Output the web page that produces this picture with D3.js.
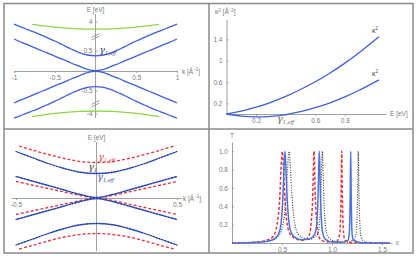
<!DOCTYPE html>
<html>
<head>
<meta charset="utf-8">
<script src="https://cdn.jsdelivr.net/npm/d3@7"></script>
<style>
body { margin: 0; background: #fff; }
svg { display: block; font-family: "Liberation Sans", Arial, sans-serif; }
.ax path, .ax line { stroke: #a0a0a0; stroke-width: 1; }
.ax text { fill: #7a7a7a; font-size: 6.5px; font-family: "Liberation Sans", Arial, sans-serif; }
.lbl { fill: #7a7a7a; font-size: 6.5px; }
</style>
</head>
<body>
<script>
// ---- data ----
// panel 1 : bands, k [1/A] vs E [eV]
var k1 = [-1, -0.9, -0.8, -0.7, -0.6, -0.5, -0.4, -0.3, -0.2, -0.1, 0, 0.1, 0.2, 0.3, 0.4, 0.5, 0.6, 0.7, 0.8, 0.9, 1];
var outerUp1 = [1.17, 1.09, 1.01, 0.93, 0.84, 0.75, 0.65, 0.55, 0.46, 0.40, 0.38, 0.40, 0.46, 0.55, 0.65, 0.75, 0.84, 0.93, 1.01, 1.09, 1.17];
var outerDn1 = [-1.18, -1.10, -1.02, -0.94, -0.85, -0.76, -0.66, -0.56, -0.47, -0.41, -0.39, -0.41, -0.47, -0.56, -0.66, -0.76, -0.85, -0.94, -1.02, -1.10, -1.18];
var innerUp1 = [0.80, 0.71, 0.63, 0.54, 0.46, 0.37, 0.29, 0.20, 0.12, 0.04, 0.01, 0.04, 0.12, 0.20, 0.29, 0.37, 0.46, 0.54, 0.63, 0.71, 0.80];
var innerDn1 = [-0.80, -0.71, -0.63, -0.54, -0.46, -0.37, -0.29, -0.20, -0.12, -0.04, -0.01, -0.04, -0.12, -0.20, -0.29, -0.37, -0.46, -0.54, -0.63, -0.71, -0.80];
var kGreen = [-0.78, -0.6, -0.4, -0.2, 0, 0.2, 0.4, 0.6, 0.78];
var greenUp = [3.885, 3.79, 3.71, 3.66, 3.64, 3.66, 3.71, 3.79, 3.885];
var greenDn = [-4.13, -4.02, -3.93, -3.87, -3.85, -3.87, -3.93, -4.02, -4.13];

// panel 2 : kappa^2 vs E
var e2 = [0, 0.1, 0.2, 0.3, 0.4, 0.5, 0.6, 0.7, 0.8, 0.9, 1.03];
var kappaA = [0, 0.054, 0.127, 0.22, 0.33, 0.46, 0.605, 0.77, 0.955, 1.16, 1.45];
var kappaB = [0, -0.04, -0.055, -0.045, -0.01, 0.045, 0.12, 0.21, 0.32, 0.45, 0.64];

// panel 3 : compared bands
var k3 = [-0.5, -0.4, -0.3, -0.2, -0.1, 0, 0.1, 0.2, 0.3, 0.4, 0.5];
var blueOutUp3 = [0.93, 0.81, 0.69, 0.59, 0.515, 0.49, 0.515, 0.59, 0.69, 0.81, 0.93];
var blueOutDn3 = [-0.94, -0.825, -0.71, -0.61, -0.535, -0.51, -0.535, -0.61, -0.71, -0.825, -0.94];
var blueInUp3 = [0.43, 0.34, 0.25, 0.16, 0.07, 0.01, 0.07, 0.16, 0.25, 0.34, 0.43];
var blueInDn3 = [-0.43, -0.34, -0.25, -0.16, -0.07, -0.01, -0.07, -0.16, -0.25, -0.34, -0.43];
var kRed3 = [-0.48, -0.4, -0.3, -0.2, -0.1, 0, 0.1, 0.2, 0.3, 0.4, 0.48];
var redOutUp3 = [1.04, 0.96, 0.87, 0.79, 0.73, 0.71, 0.73, 0.79, 0.87, 0.96, 1.04];
var redOutDn3 = [-1.02, -0.95, -0.86, -0.78, -0.73, -0.71, -0.73, -0.78, -0.86, -0.95, -1.02];
var redInUp3 = [0.33, 0.26, 0.19, 0.12, 0.05, 0.005, 0.05, 0.12, 0.19, 0.26, 0.33];
var redInDn3 = [-0.33, -0.26, -0.19, -0.12, -0.05, -0.005, -0.05, -0.12, -0.19, -0.26, -0.33];

// panel 4 : transmission T vs epsilon
var epsBlue = [0, 0.2, 0.3, 0.38, 0.43, 0.47, 0.49, 0.51, 0.52, 0.53, 0.54, 0.55, 0.57, 0.59, 0.63, 0.7, 0.76, 0.81, 0.837, 0.849, 0.861, 0.867, 0.873, 0.879, 0.885, 0.897, 0.909, 0.935, 1.0, 1.1, 1.16, 1.172, 1.177, 1.182, 1.187, 1.192, 1.197, 1.202, 1.215, 1.3, 1.58];
var tBlue = [0, 0.005, 0.012, 0.025, 0.05, 0.11, 0.21, 0.52, 0.8, 1.0, 0.8, 0.52, 0.22, 0.12, 0.06, 0.035, 0.04, 0.07, 0.13, 0.23, 0.52, 0.81, 1.0, 0.8, 0.5, 0.2, 0.1, 0.04, 0.012, 0.008, 0.03, 0.1, 0.21, 0.5, 1.0, 0.5, 0.2, 0.09, 0.03, 0.004, 0];
var epsRed = [0, 0.2, 0.3, 0.36, 0.41, 0.45, 0.47, 0.478, 0.49, 0.503, 0.516, 0.528, 0.55, 0.58, 0.63, 0.7, 0.75, 0.78, 0.794, 0.807, 0.82, 0.833, 0.846, 0.86, 0.885, 0.95, 1.05, 1.08, 1.085, 1.091, 1.097, 1.103, 1.109, 1.115, 1.13, 1.2, 1.58];
var tRed = [0, 0.007, 0.018, 0.035, 0.07, 0.2, 0.37, 0.5, 0.8, 1.0, 0.8, 0.5, 0.22, 0.1, 0.05, 0.03, 0.045, 0.12, 0.25, 0.5, 1.0, 0.5, 0.25, 0.1, 0.04, 0.012, 0.02, 0.12, 0.25, 0.55, 1.0, 0.55, 0.25, 0.12, 0.03, 0.005, 0];
var epsGray = [0, 0.2, 0.3, 0.4, 0.46, 0.5, 0.525, 0.54, 0.555, 0.57, 0.585, 0.6, 0.62, 0.66, 0.72, 0.78, 0.83, 0.86, 0.873, 0.888, 0.895, 0.903, 0.911, 0.918, 0.933, 0.96, 1.03, 1.15, 1.22, 1.243, 1.249, 1.256, 1.263, 1.27, 1.277, 1.29, 1.33, 1.58];
var tGray = [0, 0.005, 0.012, 0.03, 0.07, 0.16, 0.31, 0.5, 0.8, 1.0, 0.8, 0.5, 0.27, 0.1, 0.05, 0.04, 0.07, 0.1, 0.2, 0.5, 0.78, 1.0, 0.78, 0.5, 0.2, 0.07, 0.02, 0.01, 0.04, 0.12, 0.25, 0.5, 1.0, 0.5, 0.25, 0.07, 0.01, 0];

// ---- colours ----
var blue = "#3e5fd8", green = "#8fd44a", red = "#e5323c", frame = "#8a8a8a";

var svg = d3.select("body").append("svg")
    .attr("width", 419)
    .attr("height", 261);

// frames
svg.append("rect").attr("x", 4).attr("y", 3.5).attr("width", 409).attr("height", 249.5)
    .attr("fill", "none").attr("stroke", frame).attr("stroke-width", 1.5);
svg.append("line").attr("x1", 209).attr("x2", 209).attr("y1", 3.5).attr("y2", 253)
    .attr("stroke", frame).attr("stroke-width", 1.5);
svg.append("line").attr("x1", 4).attr("x2", 413).attr("y1", 129).attr("y2", 129)
    .attr("stroke", frame).attr("stroke-width", 1.5);

function fmt(d) { return String(d); }

function line(x, y) {
  return d3.line().x(function(d) { return x(d[0]); }).y(function(d) { return y(d[1]); })
      .curve(d3.curveCatmullRom);
}

function vline(x, y1, y2) {
  svg.append("line").attr("x1", x).attr("x2", x).attr("y1", y1).attr("y2", y2)
      .attr("stroke", "#a0a0a0");
}

function gamma(x, y, sub, color, anchor) {
  var t = svg.append("text").attr("x", x).attr("y", y).attr("fill", color)
      .attr("text-anchor", anchor || "start")
      .style("font-family", "'DejaVu Serif', serif").style("font-style", "italic");
  t.append("tspan").style("font-size", "9px").text("γ");
  t.append("tspan").attr("dy", 2).style("font-size", "5px").text(sub);
}

// ================= panel 1 =================
var x1 = d3.scaleLinear().domain([-1, 1]).range([14, 177]);
var y1 = d3.scaleLinear().domain([-1, 1]).range([111, 31]);
var yTop = d3.scaleLinear().domain([3, 4]).range([42, 22]);
var yBot = d3.scaleLinear().domain([-4, -3]).range([114, 94]);

svg.append("g").attr("class", "ax").attr("transform", "translate(0," + y1(0) + ")")
    .call(d3.axisBottom(x1).tickValues([-1, -0.5, 0.5, 1]).tickSize(2).tickSizeOuter(0)
      .tickPadding(2).tickFormat(fmt));
vline(x1(0), 14, 118);
var yt1 = [[yTop(4), "4"], [y1(0.5), "0.5"], [y1(-0.5), "-0.5"], [yBot(-4), "-4"]];
yt1.forEach(function(t) {
  svg.append("line").attr("x1", x1(0)).attr("x2", x1(0) + 2).attr("y1", t[0]).attr("y2", t[0])
      .attr("stroke", "#a0a0a0");
  svg.append("text").attr("class", "lbl").attr("x", x1(0) - 3).attr("y", t[0] + 2.3)
      .attr("text-anchor", "end").text(t[1]);
});
// axis break marks
[(yTop(4) + y1(0.5)) / 2, (yBot(-4) + y1(-0.5)) / 2 + 1].forEach(function(yb) {
  svg.append("path").attr("d", "M" + (x1(0) - 4) + "," + (yb + 1) + "l8,-4M" + (x1(0) - 4) + "," + (yb + 3.5) + "l8,-4")
      .attr("stroke", "#888").attr("stroke-width", 0.8).attr("fill", "none");
});
svg.append("text").attr("class", "lbl").attr("x", x1(0)).attr("y", 12)
    .attr("text-anchor", "middle").text("E [eV]");
var kl1 = svg.append("text").attr("class", "lbl").attr("x", 182).attr("y", y1(0) + 2.5);
kl1.append("tspan").text("k [Å");
kl1.append("tspan").attr("dy", -2.5).style("font-size", "4.5px").text("−1");
kl1.append("tspan").attr("dy", 2.5).text("]");

var l1 = line(x1, y1);
[outerUp1, outerDn1, innerUp1, innerDn1].forEach(function(s) {
  svg.append("path").attr("d", l1(d3.zip(k1, s)))
      .attr("fill", "none").attr("stroke", blue).attr("stroke-width", 1.3);
});
svg.append("path").attr("d", line(x1, yTop)(d3.zip(kGreen, greenUp)))
    .attr("fill", "none").attr("stroke", green).attr("stroke-width", 1.3);
svg.append("path").attr("d", line(x1, yBot)(d3.zip(kGreen, greenDn)))
    .attr("fill", "none").attr("stroke", green).attr("stroke-width", 1.3);
gamma(x1(0) + 4, y1(0.5) + 1.5, "1,eff", "#2b2f7a");

// ================= panel 2 =================
var x2 = d3.scaleLinear().domain([0, 1]).range([226.5, 374.5]);
var y2 = d3.scaleLinear().domain([0, 1]).range([114, 60.7]);

svg.append("g").attr("class", "ax").attr("transform", "translate(0," + y2(0) + ")")
    .call(d3.axisBottom(x2.copy().domain([0, 1.078]).range([226.5, 386])).tickValues([0.2, 0.4, 0.6, 0.8]).tickSize(2).tickSizeOuter(0)
      .tickPadding(2).tickFormat(function(d) { return d === 0.4 ? "" : fmt(d); }));
svg.append("g").attr("class", "ax").attr("transform", "translate(" + x2(0) + ",0)")
    .call(d3.axisLeft(y2.copy().domain([0, 1.77]).range([114, 19.7])).tickValues([0.2, 0.6, 1, 1.4]).tickSize(-2).tickSizeOuter(0)
      .tickPadding(4).tickFormat(fmt));
var kl2 = svg.append("text").attr("class", "lbl").attr("x", 215).attr("y", 14);
kl2.append("tspan").text("κ");
kl2.append("tspan").attr("dy", -2.5).style("font-size", "4.5px").text("2");
kl2.append("tspan").attr("dy", 2.5).text(" [Å");
kl2.append("tspan").attr("dy", -2.5).style("font-size", "4.5px").text("−2");
kl2.append("tspan").attr("dy", 2.5).text("]");
svg.append("text").attr("class", "lbl").attr("x", 390).attr("y", y2(0) + 2.3).text("E [eV]");
gamma(x2(0.4), y2(0) + 8, "1,eff", "#555", "middle");

var l2 = line(x2, y2);
[kappaA, kappaB].forEach(function(s) {
  svg.append("path").attr("d", l2(d3.zip(e2, s)))
      .attr("fill", "none").attr("stroke", blue).attr("stroke-width", 1.3);
  var t = svg.append("text").attr("x", x2(e2[e2.length - 1]) - 7).attr("y", y2(s[s.length - 1]) - 4)
      .attr("fill", "#444").style("font-size", "7px");
  t.append("tspan").text("κ");
  t.append("tspan").attr("dy", -3).style("font-size", "4.5px").text("2");
});

// ================= panel 3 =================
var x3 = d3.scaleLinear().domain([-0.5, 0.5]).range([16, 177]);
var y3 = d3.scaleLinear().domain([-1, 1]).range([248, 148]);

svg.append("g").attr("class", "ax").attr("transform", "translate(0," + y3(0) + ")")
    .call(d3.axisBottom(x3.copy().domain([-0.53, 0.53]).range([11.2, 181.8])).tickValues([-0.5, 0.5]).tickSize(2).tickSizeOuter(0)
      .tickPadding(2).tickFormat(fmt));
vline(x3(0), 142, 251);
svg.append("text").attr("class", "lbl").attr("x", x3(0)).attr("y", 140)
    .attr("text-anchor", "middle").text("E [eV]");
var kl3 = svg.append("text").attr("class", "lbl").attr("x", 183).attr("y", y3(0) + 2.5);
kl3.append("tspan").text("k [Å");
kl3.append("tspan").attr("dy", -2.5).style("font-size", "4.5px").text("−1");
kl3.append("tspan").attr("dy", 2.5).text("]");

var l3 = line(x3, y3);
[redOutUp3, redOutDn3].forEach(function(s) {
  svg.append("path").attr("d", l3(d3.zip(kRed3, s)))
      .attr("fill", "none").attr("stroke", red).attr("stroke-width", 1.3).attr("stroke-dasharray", "3,2");
});
[redInUp3, redInDn3].forEach(function(s) {
  svg.append("path").attr("d", l3(d3.zip(k3, s)))
      .attr("fill", "none").attr("stroke", red).attr("stroke-width", 1.3).attr("stroke-dasharray", "3,2");
});
[blueOutUp3, blueOutDn3, blueInUp3, blueInDn3].forEach(function(s) {
  svg.append("path").attr("d", l3(d3.zip(k3, s)))
      .attr("fill", "none").attr("stroke", blue).attr("stroke-width", 1.3);
  svg.append("path").attr("d", l3(d3.zip(k3, s)))
      .attr("fill", "none").attr("stroke", "#1a1a40").attr("stroke-width", 1.1)
      .attr("stroke-linecap", "round").attr("stroke-dasharray", "0.1,3");
});
gamma(x3(0) + 2, 160, "1,eff", red);
gamma(x3(0) - 8, 170, "1", "#333");
gamma(x3(0) + 1, 180, "1,eff", "#2f3fa8");

// ================= panel 4 =================
var x4 = d3.scaleLinear().domain([0, 1.5]).range([232, 382]);
var y4 = d3.scaleLinear().domain([0, 1]).range([243, 151.3]);

svg.append("g").attr("class", "ax").attr("transform", "translate(0," + y4(0) + ")")
    .call(d3.axisBottom(x4.copy().domain([0, 1.6]).range([232, 392])).tickValues([0.5, 1.0, 1.5]).tickSize(2).tickSizeOuter(0)
      .tickPadding(2).tickFormat(d3.format(".1f")));
svg.append("g").attr("class", "ax").attr("transform", "translate(" + x4(0) + ",0)")
    .call(d3.axisLeft(y4.copy().domain([0, 1.1]).range([243, 142])).tickValues([0.2, 0.4, 0.6, 0.8, 1.0]).tickSize(-2).tickSizeOuter(0)
      .tickPadding(4).tickFormat(d3.format(".1f")));
svg.append("text").attr("class", "lbl").attr("x", x4(0)).attr("y", 138)
    .attr("text-anchor", "middle").text("T");
svg.append("text").attr("class", "lbl").attr("x", 396).attr("y", y4(0) + 2.3)
    .style("font-style", "italic").text("ε");

var l4 = d3.line().x(function(d) { return x4(d[0]); }).y(function(d) { return y4(d[1]); })
    .curve(d3.curveMonotoneX);
svg.append("path").attr("d", l4(d3.zip(epsGray, tGray)))
    .attr("fill", "none").attr("stroke", "#444").attr("stroke-width", 1.2).attr("stroke-dasharray", "1,1.5");
svg.append("path").attr("d", l4(d3.zip(epsRed, tRed)))
    .attr("fill", "none").attr("stroke", red).attr("stroke-width", 1.5).attr("stroke-dasharray", "3,2");
svg.append("path").attr("d", l4(d3.zip(epsBlue, tBlue)))
    .attr("fill", "none").attr("stroke", "#4d72e0").attr("stroke-width", 1.5);
</script>
</body>
</html>
